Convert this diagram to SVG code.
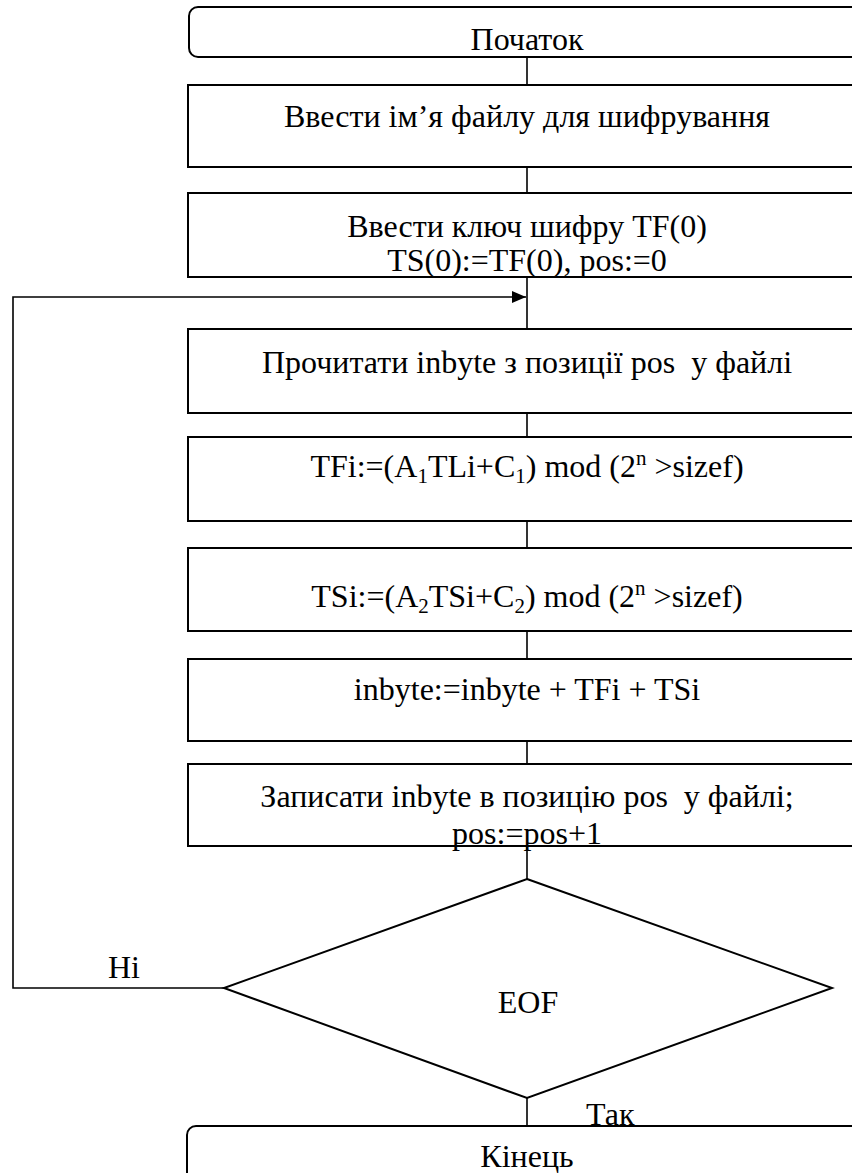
<svg xmlns="http://www.w3.org/2000/svg" width="852" height="1173" viewBox="0 0 852 1173" font-family="'Times New Roman', 'Liberation Serif', 'DejaVu Serif', serif">
<defs>
<style>
.box{fill:#fff;stroke:#000;stroke-width:2}
.ln{fill:none;stroke:#000;stroke-width:1.6}
.t{font-family:'Times New Roman','Liberation Serif','DejaVu Serif',serif;font-size:32px;fill:#000;text-anchor:middle}
.l{font-family:'Times New Roman','Liberation Serif','DejaVu Serif',serif;font-size:32px;fill:#000}
.sub{font-size:21px}
</style>
<marker id="ah" markerWidth="14" markerHeight="12" refX="14" refY="6" orient="auto" markerUnits="userSpaceOnUse">
<path d="M0,0 L14,6 L0,12 Z" fill="#000"/>
</marker>
</defs>
<rect width="852" height="1173" fill="#fff"/>
<g id="connectors">
<line class="ln" x1="527" y1="57" x2="527" y2="85"/>
<line class="ln" x1="527" y1="167" x2="527" y2="193"/>
<line class="ln" x1="527" y1="277" x2="527" y2="329"/>
<line class="ln" x1="527" y1="413" x2="527" y2="437"/>
<line class="ln" x1="527" y1="521" x2="527" y2="548"/>
<line class="ln" x1="527" y1="631" x2="527" y2="659"/>
<line class="ln" x1="527" y1="741" x2="527" y2="764"/>
<line class="ln" x1="527" y1="846" x2="527" y2="879"/>
<line class="ln" x1="527" y1="1098" x2="527" y2="1126"/>
<polyline class="ln" points="224,988 13,988 13,297 526,297" marker-end="url(#ah)"/>
</g>
<g id="start">
<rect class="box" x="189" y="7" width="700" height="50" rx="9"/>
<text class="t" x="527" y="50">Початок</text>
</g>
<g id="input-file">
<rect class="box" x="188" y="85" width="700" height="82"/>
<text class="t" x="527" y="127">Ввести ім’я файлу для шифрування</text>
</g>
<g id="input-key">
<rect class="box" x="188" y="193" width="700" height="84"/>
<text class="t" x="527" y="237">Ввести ключ шифру TF(0)</text>
<text class="t" x="527" y="271">TS(0):=TF(0), pos:=0</text>
</g>
<g id="read">
<rect class="box" x="188" y="329" width="700" height="84"/>
<text class="t" x="527" y="373" xml:space="preserve">Прочитати inbyte з позиції pos  у файлі</text>
</g>
<g id="tfi">
<rect class="box" x="188" y="437" width="700" height="84"/>
<text class="t" x="527" y="477">TFi:=(A<tspan class="sub" dy="6">1</tspan><tspan dy="-6">TLi+C</tspan><tspan class="sub" dy="6">1</tspan><tspan dy="-6">) mod (2</tspan><tspan class="sub" dy="-12">n</tspan><tspan dy="12"> &gt;sizef)</tspan></text>
</g>
<g id="tsi">
<rect class="box" x="188" y="548" width="700" height="83"/>
<text class="t" x="527" y="607">TSi:=(A<tspan class="sub" dy="6">2</tspan><tspan dy="-6">TSi+C</tspan><tspan class="sub" dy="6">2</tspan><tspan dy="-6">) mod (2</tspan><tspan class="sub" dy="-12">n</tspan><tspan dy="12"> &gt;sizef)</tspan></text>
</g>
<g id="sum">
<rect class="box" x="188" y="659" width="700" height="82"/>
<text class="t" x="527" y="700">inbyte:=inbyte + TFi + TSi</text>
</g>
<g id="write">
<rect class="box" x="188" y="764" width="700" height="82"/>
<text class="t" x="527" y="807" xml:space="preserve">Записати inbyte в позицію pos  у файлі;</text>
<text class="t" x="527" y="844">pos:=pos+1</text>
</g>
<g id="eof">
<polygon class="box" points="527,879 832,988 527,1098 224,988"/>
<text class="t" x="528" y="1013">EOF</text>
</g>
<g id="end">
<rect class="box" x="187" y="1126" width="700" height="80" rx="9"/>
<text class="t" x="527" y="1167">Кінець</text>
</g>
<g id="labels">
<text class="l" x="108" y="978">Ні</text>
<text class="l" x="586" y="1125">Так</text>
</g>
</svg>
